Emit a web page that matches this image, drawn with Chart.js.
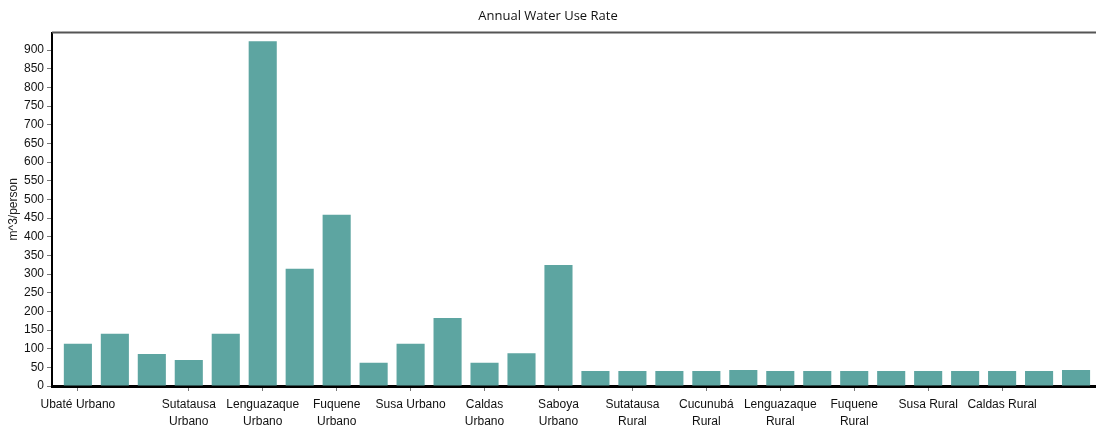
<!DOCTYPE html>
<html>
<head>
<meta charset="utf-8">
<script src="https://cdn.jsdelivr.net/npm/chart.js@4"></script>
<style>
  html, body { margin: 0; padding: 0; background: #fff; }
  #wrap { width: 1096px; height: 432px; }
</style>
</head>
<body>
<div id="wrap"><canvas id="waterChart"></canvas></div>
<script>
// one bar per municipality, urban first then rural; only some names are printed under the axis
const categories = [
    ['Ubaté Urbano'], [''], [''], ['Sutatausa', 'Urbano'], [''],
    ['Lenguazaque', 'Urbano'], [''], ['Fuquene', 'Urbano'], [''], ['Susa Urbano'],
    [''], ['Caldas', 'Urbano'], [''], ['Saboya', 'Urbano'], [''],
    ['Sutatausa', 'Rural'], [''], ['Cucunubá', 'Rural'], [''], ['Lenguazaque', 'Rural'],
    [''], ['Fuquene', 'Rural'], [''], ['Susa Rural'], [''],
    ['Caldas Rural'], [''], ['']
];
const waterUse = [
    113, 140, 86, 70, 140, 924, 314, 459, 62, 113,
    182, 62, 88, 324, 40, 40, 40, 40, 43, 40,
    40, 40, 40, 40, 40, 40, 40, 43
];
const yTicks = [0, 50, 100, 150, 200, 250, 300, 350, 400, 450, 500, 550, 600, 650, 700, 750, 800, 850, 900];

const labeledIdx = categories.map((c, i) => c[0] ? i : -1).filter(i => i >= 0);
const tickFont = { family: 'Liberation Sans, Arial, sans-serif', size: 12 };

const topLine = {
    id: 'topLine',
    afterDraw(chart) {
        const { ctx, chartArea } = chart;
        ctx.save();
        ctx.strokeStyle = '#555';
        ctx.lineWidth = 2;
        ctx.beginPath();
        ctx.moveTo(chartArea.left, chartArea.top);
        ctx.lineTo(chartArea.right, chartArea.top);
        ctx.stroke();
        ctx.restore();
    }
};

new Chart('waterChart', {
    type: 'bar',
    data: {
        datasets: [{
            data: waterUse.map((v, i) => ({ x: i, y: v })),
            backgroundColor: '#5DA5A1',
            barPercentage: 0.76,
            categoryPercentage: 1
        }]
    },
    plugins: [topLine],
    options: {
        responsive: true,
        maintainAspectRatio: false,
        animation: false,
        layout: { padding: { left: 0, right: 0, top: 0, bottom: 0 } },
        plugins: {
            legend: { display: false },
            tooltip: { enabled: false },
            title: {
                display: true,
                text: 'Annual Water Use Rate',
                color: '#111',
                font: { family: 'Open Sans, Noto Sans, sans-serif', size: 13, weight: 'normal' },
                padding: { top: 8, bottom: 9 }
            }
        },
        scales: {
            x: {
                type: 'linear',
                offset: false,
                min: -0.7,
                max: 27.54,
                afterBuildTicks: s => { s.ticks = labeledIdx.map(v => ({ value: v })); },
                afterFit: s => { s.height = 46; },
                ticks: {
                    autoSkip: false,
                    maxRotation: 0,
                    padding: 5,
                    color: '#111',
                    font: { ...tickFont, lineHeight: 1.4 },
                    callback: v => categories[v]
                },
                grid: { drawOnChartArea: false, offset: false, tickLength: 5, tickColor: '#777' },
                border: { color: '#000', width: 3 }
            },
            y: {
                min: 0,
                max: 947,
                afterBuildTicks: s => { s.ticks = yTicks.map(v => ({ value: v })); },
                afterFit: s => { s.width = 52; },
                ticks: { padding: 3, color: '#111', font: tickFont },
                grid: { drawOnChartArea: false, tickLength: 5, tickColor: '#777' },
                border: { color: '#000', width: 2 },
                title: {
                    display: true,
                    text: 'm^3/person',
                    color: '#222',
                    font: tickFont,
                    padding: { top: 6, bottom: 0 }
                }
            }
        }
    }
});
</script>
</body>
</html>
